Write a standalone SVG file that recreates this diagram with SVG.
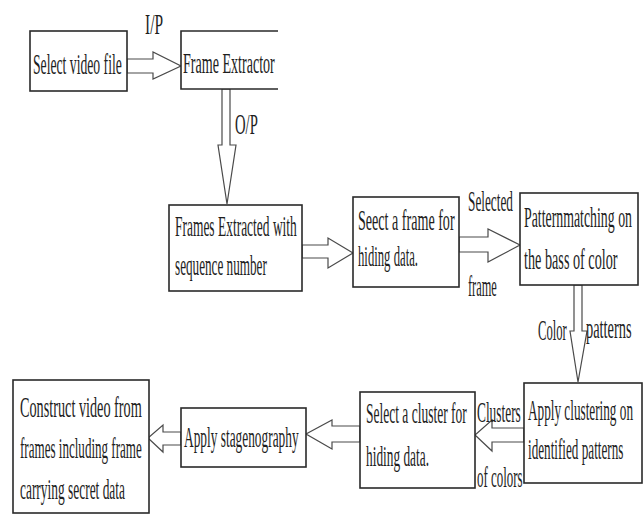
<svg xmlns="http://www.w3.org/2000/svg" width="644" height="516" viewBox="0 0 644 516">
<style>
.box{fill:#fff;stroke:#2a2a2a;stroke-width:1.6}
.arr{fill:#fff;stroke:#4a4a4a;stroke-width:1.2;stroke-linejoin:miter}
text{font-family:"Liberation Serif","Times New Roman",serif;font-size:30px;fill:#1e1e1e}
</style>
<rect width="644" height="516" fill="#fff"/>
<g id="connectors">
<polygon class="arr" points="127,59 153,59 153,52 181,66 153,79 153,73 127,73"/>
<polygon class="arr" points="222,89 222,145 218,145 227,204 236,145 230,145 230,89"/>
<polygon class="arr" points="302,245 328,245 328,238 353,253 328,268 328,258 302,258"/>
<polygon class="arr" points="459,237 488,237 488,229 520,245 488,262 488,252 459,252"/>
<polygon class="arr" points="574,285 574,331 570,331 578,382 587,331 582,331 582,285"/>
<polygon class="arr" points="524,428 492,428 492,420 475,435 492,451 492,442 524,442"/>
<polygon class="arr" points="360,426 332,426 332,420 306,434 332,449 332,442 360,442"/>
<polygon class="arr" points="181,432 163,432 163,425 148,438 163,452 163,445 181,445"/>
<text transform="translate(145,34) scale(0.6,1)" textLength="30" lengthAdjust="spacingAndGlyphs">I/P</text>
<text transform="translate(235,134) scale(0.6,1)" textLength="38" lengthAdjust="spacingAndGlyphs">O/P</text>
<text transform="translate(468,211) scale(0.6,1)" textLength="75" lengthAdjust="spacingAndGlyphs">Selected</text>
<text transform="translate(468,296) scale(0.6,1)" textLength="48" lengthAdjust="spacingAndGlyphs">frame</text>
<text transform="translate(538,340) scale(0.6,1)" textLength="48" lengthAdjust="spacingAndGlyphs">Color</text>
<text transform="translate(586,338) scale(0.6,1)" textLength="76" lengthAdjust="spacingAndGlyphs">patterns</text>
<text transform="translate(477,422) scale(0.6,1)" textLength="73" lengthAdjust="spacingAndGlyphs">Clusters</text>
<text transform="translate(477,487) scale(0.6,1)" textLength="76" lengthAdjust="spacingAndGlyphs">of colors</text>
</g>
<g id="n1">
<rect class="box" x="30" y="31" width="97" height="60"/>
<text transform="translate(33,74) scale(0.6,1)" textLength="148" lengthAdjust="spacingAndGlyphs">Select video file</text>
</g>
<g id="n2">
<path class="box" d="M278,31 H181 V89 H278"/>
<text transform="translate(183,73) scale(0.6,1)" textLength="153" lengthAdjust="spacingAndGlyphs">Frame Extractor</text>
</g>
<g id="n3">
<rect class="box" x="169" y="205" width="133" height="86"/>
<text transform="translate(175,236) scale(0.6,1)" textLength="203" lengthAdjust="spacingAndGlyphs">Frames Extracted with</text>
<text transform="translate(175,275) scale(0.6,1)" textLength="153" lengthAdjust="spacingAndGlyphs">sequence number</text>
</g>
<g id="n4">
<rect class="box" x="353" y="197" width="106" height="90"/>
<text transform="translate(358,230) scale(0.6,1)" textLength="161" lengthAdjust="spacingAndGlyphs">Seect a frame for</text>
<text transform="translate(358,266) scale(0.6,1)" textLength="100" lengthAdjust="spacingAndGlyphs">hiding data.</text>
</g>
<g id="n5">
<rect class="box" x="520" y="193" width="118" height="92"/>
<text transform="translate(524,227) scale(0.6,1)" textLength="180" lengthAdjust="spacingAndGlyphs">Patternmatching on</text>
<text transform="translate(524,269) scale(0.6,1)" textLength="156" lengthAdjust="spacingAndGlyphs">the bass of color</text>
</g>
<g id="n6">
<rect class="box" x="524" y="383" width="118" height="100"/>
<text transform="translate(528,420) scale(0.6,1)" textLength="175" lengthAdjust="spacingAndGlyphs">Apply clustering on</text>
<text transform="translate(528,459) scale(0.6,1)" textLength="159" lengthAdjust="spacingAndGlyphs">identified patterns</text>
</g>
<g id="n7">
<rect class="box" x="360" y="392" width="115" height="96"/>
<text transform="translate(366,423) scale(0.6,1)" textLength="168" lengthAdjust="spacingAndGlyphs">Select a cluster for</text>
<text transform="translate(366,466) scale(0.6,1)" textLength="105" lengthAdjust="spacingAndGlyphs">hiding data.</text>
</g>
<g id="n8">
<rect class="box" x="181" y="408" width="125" height="59"/>
<text transform="translate(184,447) scale(0.6,1)" textLength="191" lengthAdjust="spacingAndGlyphs">Apply stagenography</text>
</g>
<g id="n9">
<rect class="box" x="13" y="380" width="136" height="133"/>
<text transform="translate(20,417) scale(0.6,1)" textLength="203" lengthAdjust="spacingAndGlyphs">Construct video from</text>
<text transform="translate(20,458) scale(0.6,1)" textLength="203" lengthAdjust="spacingAndGlyphs">frames including frame</text>
<text transform="translate(20,499) scale(0.6,1)" textLength="175" lengthAdjust="spacingAndGlyphs">carrying secret data</text>
</g>
</svg>
